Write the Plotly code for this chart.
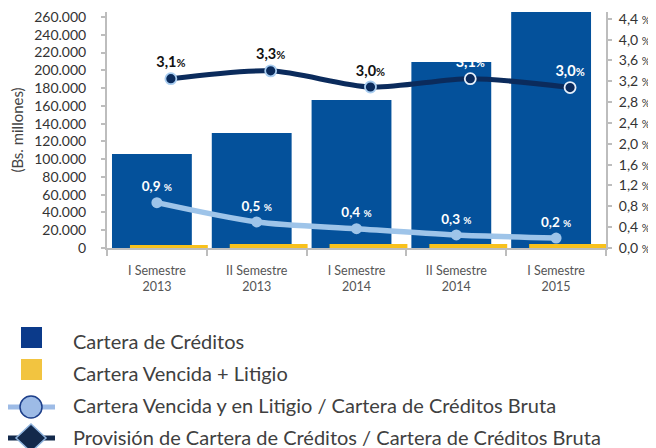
import plotly.graph_objects as go
import numpy as np

# ---- data ----
categories = ["I Semestre<br>2013", "II Semestre<br>2013", "I Semestre<br>2014",
              "II Semestre<br>2014", "I Semestre<br>2015"]
cartera_creditos = [105800, 129500, 166700, 209500, 272000]
cartera_vencida = [3400, 4500, 4500, 4500, 4500]
ratio_vencida = [0.87, 0.50, 0.37, 0.25, 0.19]
ratio_vencida_lbl = ["0,9 %", "0,5 %", "0,4 %", "0,3 %", "0,2 %"]
ratio_provision = [3.25, 3.40, 3.09, 3.25, 3.08]
ratio_provision_lbl = ["3,1", "3,3", "3,0", "3,1", "3,0"]
left_ticks = list(range(0, 260001, 20000))
right_ticks = [0.0, 0.4, 0.8, 1.2, 1.6, 2.0, 2.4, 2.8, 3.2, 3.6, 4.0, 4.4]
legend_names = ["Cartera de Créditos", "Cartera Vencida + Litigio",
                "Cartera Vencida y en Litigio / Cartera de Créditos Bruta",
                "Provisión de Cartera de Créditos / Cartera de Créditos Bruta"]

# ---- styles ----
W, H = 656, 448
OFF = 8  # page body margin offset
L, R, T, B = 107 - OFF, 656 - 606 + OFF, 12 - OFF, 448 - 248 + OFF
FONT = "Lato"
LEG_FONT = "Lato"
BLUE = "#04519b"
YELLOW = "#f8c11c"
NAVY = "#0b2b5c"
LIGHT = "#9ec4e9"

x = np.arange(len(categories))

fig = go.Figure()
fig.add_trace(go.Bar(x=x, y=cartera_creditos, width=0.8, offset=-0.45,
                     marker=dict(color=BLUE, line=dict(width=0)), showlegend=False))
fig.add_trace(go.Bar(x=x, y=cartera_vencida, width=0.78, offset=-0.27,
                     marker=dict(color=YELLOW, line=dict(width=0)), showlegend=False))
fig.add_trace(go.Scatter(
    x=x, y=ratio_vencida, yaxis="y2", mode="lines+markers+text",
    line=dict(color=LIGHT, width=5.5, shape="spline", smoothing=0.8),
    marker=dict(size=11, color=LIGHT),
    text=["<b>%s</b>" % t.replace(" %", " <span style='font-size:10px'>%</span>") for t in ratio_vencida_lbl],
    textposition="top center", textfont=dict(family=FONT, size=13.5, color="white"),
    showlegend=False, cliponaxis=False))
fig.add_trace(go.Scatter(
    x=x, y=ratio_provision, xaxis="x2", yaxis="y2", mode="lines+markers+text",
    line=dict(color=NAVY, width=5, shape="spline", smoothing=0.8),
    marker=dict(size=11, color=NAVY,
                line=dict(color=["#a9cdf0", "#a9cdf0", "#a9cdf0", "#e6f0fb", "#e6f0fb"], width=1.8)),
    text=["<b>%s<span style='font-size:11px'>%%</span></b>" % t for t in ratio_provision_lbl],
    textposition="top center",
    textfont=dict(family=FONT, size=14.5, color=["#111", "#111", "#111", "white", "white"]),
    showlegend=False, cliponaxis=False))

axis_gray = "#bdbdbd"
fig.update_layout(
    width=W, height=H, margin=dict(l=L, r=R, t=T, b=B, autoexpand=False),
    paper_bgcolor="white", plot_bgcolor="white",
    barmode="overlay", separators=",.",
    font=dict(family=FONT, color="#333"),
    xaxis=dict(range=[-0.5, 4.5], tickvals=list(x), ticktext=categories,
               ticks="", showgrid=False, zeroline=False, automargin=False,
               showline=True, linecolor=axis_gray, linewidth=2,
               ticklabelstandoff=10,
               tickfont=dict(size=12.5, color="#555"),
               minor=dict(ticks="outside", tick0=-0.5, dtick=1, ticklen=6,
                          tickcolor=axis_gray, tickwidth=2, showgrid=False)),
    xaxis2=dict(overlaying="x", range=[-0.64, 4.36], visible=False, automargin=False),
    yaxis=dict(range=[0, 265700], tickvals=left_ticks, tickformat=",d",
               ticks="outside", ticklen=4, tickcolor=axis_gray, tickwidth=2,
               showline=True, linecolor=axis_gray, linewidth=2, automargin=False,
               showgrid=False, zeroline=False, ticklabelstandoff=12,
               ticklabeloverflow="allow",
               tickfont=dict(size=14, color="#333"),
               title=dict(text="(Bs. millones)", font=dict(family=FONT, size=15, color="#444"),
                          standoff=14)),
    yaxis2=dict(overlaying="y", side="right", range=[0, 4.53], tickvals=right_ticks,
                ticktext=[("%.1f" % v).replace(".", ",") + " <span style='font-size:11px'>%</span>" for v in right_ticks],
                ticks="outside", ticklen=4, tickcolor=axis_gray, tickwidth=2,
                showline=True, linecolor=axis_gray, linewidth=2, automargin=False,
                showgrid=False, zeroline=False, ticklabelstandoff=4,
                ticklabeloverflow="allow",
                tickfont=dict(size=14, color="#333")),
)

# ---- manual legend (reference pixel -> paper) ----
pw, ph = W - L - R, H - T - B
def px(v):
    return (v - OFF - L) / pw
def py(v):
    return (H - B - (v - OFF)) / ph

shapes = []
annots = []
shapes.append(dict(type="rect", xref="paper", yref="paper", x0=px(21), x1=px(42),
                   y0=py(348), y1=py(327), fillcolor="#0b3a8a", line=dict(width=0)))
shapes.append(dict(type="rect", xref="paper", yref="paper", x0=px(21), x1=px(42),
                   y0=py(380), y1=py(359), fillcolor="#f2c440", line=dict(width=0)))
shapes.append(dict(type="line", xref="paper", yref="paper", x0=px(7), x1=px(55),
                   y0=py(407), y1=py(407), line=dict(color="#9dbbe6", width=5)))
shapes.append(dict(type="circle", xref="paper", yref="paper", x0=px(20), x1=px(42),
                   y0=py(418), y1=py(396), fillcolor="#9dbbe6",
                   line=dict(color="#1d3f8a", width=1.5)))
shapes.append(dict(type="line", xref="paper", yref="paper", x0=px(7), x1=px(55),
                   y0=py(438), y1=py(438), line=dict(color="#13294b", width=5)))
dpath = "M %f,%f L %f,%f L %f,%f L %f,%f Z" % (px(31), py(424), px(46), py(438),
                                                px(31), py(452), px(16), py(438))
shapes.append(dict(type="path", xref="paper", yref="paper", path=dpath,
                   fillcolor="#13294b", line=dict(color="#8fb3dd", width=1.5)))
for name, yc in zip(legend_names, [341, 373, 405, 437]):
    annots.append(dict(xref="paper", yref="paper", x=px(71), y=py(yc), text=name,
                       xanchor="left", yanchor="middle", showarrow=False,
                       font=dict(family=LEG_FONT, size=20, color="#404040")))
fig.update_layout(shapes=shapes, annotations=annots)

fig.write_html("out.html")
